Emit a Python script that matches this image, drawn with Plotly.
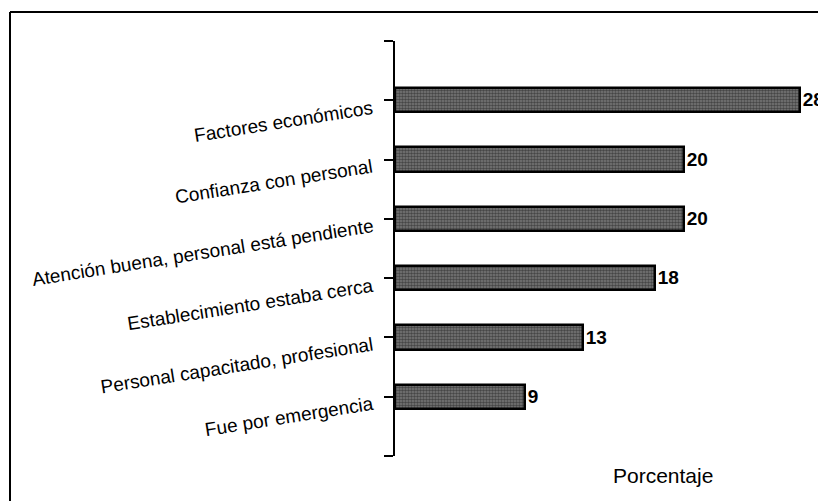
import plotly.graph_objects as go

categories = [
    "Factores económicos",
    "Confianza con personal",
    "Atención buena, personal está pendiente",
    "Establecimiento estaba cerca",
    "Personal capacitado, profesional",
    "Fue por emergencia",
]
values = [28, 20, 20, 18, 13, 9]
axis_title = "Porcentaje"

OFF = 8  # page body margin
W, H = 826 - OFF, 501 - OFF
L, R, T, B = 395 - OFF, 4, 41 - OFF, 53 - OFF
pw, ph = W - L - R, H - T - B
PX_PER_UNIT = 14.46

def px_to_paper_x(px):
    return (px - OFF - L) / pw

def px_to_paper_y(py):
    return (H - B - (py - OFF)) / ph

pos = list(range(len(categories)))

fig = go.Figure()
fig.add_trace(go.Bar(
    x=values, y=pos, orientation="h", width=0.41,
    marker=dict(color="#555555", line=dict(color="black", width=2.5),
                pattern=dict(shape=".", size=3, solidity=0.55,
                             fgcolor="#111111", bgcolor="#7a7a7a")),
    text=[str(v) for v in values], textposition="outside",
    textfont=dict(family="Liberation Sans Narrow, Arial Narrow, Liberation Sans", size=19, color="black"),
    texttemplate="<b>%{text}</b>",
    cliponaxis=False, showlegend=False,
))

annotations = []
for i, c in enumerate(categories):
    annotations.append(dict(
        x=px_to_paper_x(377), xref="paper", y=i, yref="y",
        text=c, showarrow=False, textangle=-9,
        xanchor="right", yanchor="top", yshift=6,
        font=dict(family="Liberation Sans, Arial", size=19, color="black"),
    ))
annotations.append(dict(
    x=px_to_paper_x(663), xref="paper", y=px_to_paper_y(475), yref="paper",
    text=axis_title, showarrow=False, xanchor="center", yanchor="middle",
    font=dict(family="Liberation Sans Narrow, Arial Narrow, Liberation Sans", size=21, color="black"),
))

shapes = [
    dict(type="line", xref="paper", yref="paper",
         x0=px_to_paper_x(10), x1=px_to_paper_x(840),
         y0=px_to_paper_y(12), y1=px_to_paper_y(12),
         line=dict(color="black", width=2)),
    dict(type="line", xref="paper", yref="paper",
         x0=px_to_paper_x(10), x1=px_to_paper_x(10),
         y0=px_to_paper_y(12), y1=px_to_paper_y(520),
         line=dict(color="black", width=2)),
]

fig.update_layout(
    width=W, height=H,
    margin=dict(l=L, r=R, t=T, b=B, pad=0),
    paper_bgcolor="white", plot_bgcolor="white",
    bargap=0,
    xaxis=dict(range=[0, pw / PX_PER_UNIT], visible=False, fixedrange=True),
    yaxis=dict(range=[len(categories), -1], tickmode="array",
               tickvals=list(range(-1, len(categories) + 1)),
               ticktext=[""] * (len(categories) + 2),
               showline=True, linecolor="black", linewidth=2,
               ticks="outside", ticklen=9, tickwidth=2, tickcolor="black",
               showgrid=False, zeroline=False),
    annotations=annotations, shapes=shapes,
)

fig.write_html("out.html")
